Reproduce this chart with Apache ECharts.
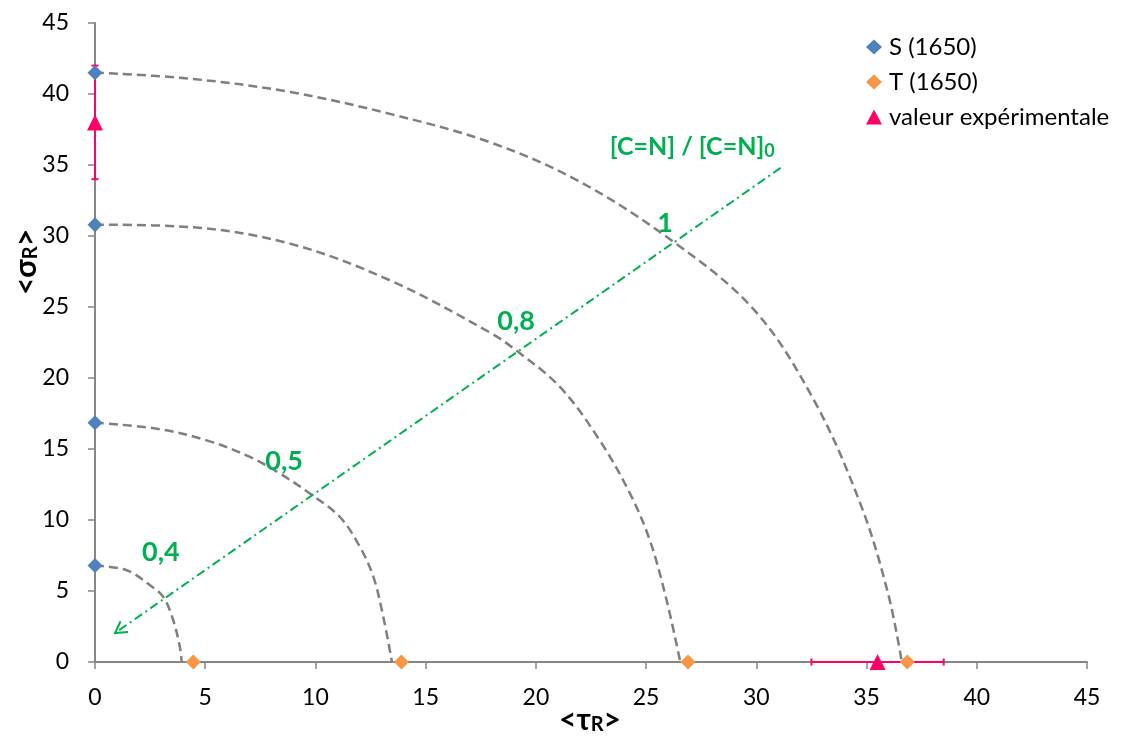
<!DOCTYPE html>
<html><head><meta charset="utf-8">
<script src="https://cdn.jsdelivr.net/npm/echarts@6/dist/echarts.min.js"></script>
<style>html,body{margin:0;padding:0;background:#fff}#c{width:1134px;height:737px}</style>
</head><body><div id="c"></div>
<script>
// ---- data ----
const axisMin = 0, axisMax = 45, axisStep = 5;
const sName = 'S (1650)', tName = 'T (1650)', expName = 'valeur expérimentale';
const sX = [0, 0, 0, 0];
const sY = [41.5, 30.8, 16.85, 6.8];
const tX = [4.46, 13.9, 26.9, 36.85];
const tY = [0, 0, 0, 0];
const expX = [0, 35.5];
const expY = [38, 0];
const expErrX = [0, 3];
const expErrY = [4, 0];
const curve1 = [[0,41.5],[4.31,41.08],[8.85,40.14],[13.38,38.6],[17.92,36.6],[21.9,33.9],[26.1,29.75],[29.9,24.8],[32.63,18.39],[34.76,10.98],[35.98,4.8],[36.6,0]];
const curve2 = [[0,30.8],[4.31,30.63],[8.85,29.46],[13.38,26.88],[17.92,23.2],[19.1,21.95],[21.09,19.37],[22.9,15.6],[24.27,11.86],[25.17,8.57],[25.93,4.35],[26.55,0]];
const curve3 = [[0,16.85],[2.8,16.43],[5.07,15.61],[7.03,14.44],[8.39,13.27],[9.75,11.86],[11.11,10.21],[12.02,8.1],[12.63,5.99],[13.08,3.17],[13.47,0]];
const curve4 = [[0,6.8],[1.44,6.46],[2.5,5.4],[3.1,4.58],[3.55,2.94],[3.85,1.06],[3.93,0]];
const ratioLine = [31.1, 34.8, 0.91, 2.04]; // from (x1,y1) arrow to (x2,y2)
const ratioLabels = ['1', '0,8', '0,5', '0,4'];
const ratioLabelX = [25.86, 19.1, 8.58, 2.99];
const ratioLabelY = [30.9, 24.0, 14.13, 7.73];
const ratioTitle = ['[C=N] / [C=N]', '0'];
const ratioTitlePos = [27.09, 36.3];

// ---- chart ----
const FONT = 'Lato, "Open Sans", "DejaVu Sans", sans-serif';
const GREEN = '#00B050', PINK = '#FF0066', BLUE = '#4F81BD', ORANGE = '#F79646', GRAY = '#868686';
const chart = echarts.init(document.getElementById('c'), null, {renderer: 'canvas'});

function curveSeries(pts) {
  return {type: 'line', data: pts, smooth: 0.35, symbol: 'none', silent: true, z: 1,
    lineStyle: {color: '#7F7F7F', width: 2.5, type: [9, 5], opacity: 1}, clip: false};
}

function renderArrow(params, api) {
  const p0 = api.coord([api.value(0), api.value(1)]);
  const p1 = api.coord([api.value(2), api.value(3)]);
  const ang = Math.atan2(p1[1] - p0[1], p1[0] - p0[0]);
  const L = 13, a = Math.PI / 6;
  const h1 = [p1[0] - L * Math.cos(ang - a), p1[1] - L * Math.sin(ang - a)];
  const h2 = [p1[0] - L * Math.cos(ang + a), p1[1] - L * Math.sin(ang + a)];
  return {type: 'group', children: [
    {type: 'line', shape: {x1: p0[0], y1: p0[1], x2: p1[0], y2: p1[1]},
     style: {stroke: GREEN, lineWidth: 2, lineDash: [9, 4, 2, 4]}},
    {type: 'polyline', shape: {points: [h1, p1, h2]},
     style: {stroke: GREEN, lineWidth: 2, fill: null}}
  ]};
}

function renderErr(params, api) {
  const x = api.value(0), y = api.value(1), ex = api.value(2), ey = api.value(3);
  const st = {stroke: PINK, lineWidth: 2};
  const ch = [];
  const c = 3.5;
  if (ex > 0) {
    const a = api.coord([x - ex, y]), b = api.coord([x + ex, y]);
    ch.push({type: 'line', shape: {x1: a[0], y1: a[1], x2: b[0], y2: b[1]}, style: st});
    ch.push({type: 'line', shape: {x1: a[0], y1: a[1] - c, x2: a[0], y2: a[1] + c}, style: st});
    ch.push({type: 'line', shape: {x1: b[0], y1: b[1] - c, x2: b[0], y2: b[1] + c}, style: st});
  }
  if (ey > 0) {
    const a = api.coord([x, y - ey]), b = api.coord([x, y + ey]);
    ch.push({type: 'line', shape: {x1: a[0], y1: a[1], x2: b[0], y2: b[1]}, style: st});
    ch.push({type: 'line', shape: {x1: a[0] - c, y1: a[1], x2: a[0] + c, y2: a[1]}, style: st});
    ch.push({type: 'line', shape: {x1: b[0] - c, y1: b[1], x2: b[0] + c, y2: b[1]}, style: st});
  }
  return {type: 'group', children: ch};
}

const axisCommon = {
  type: 'value', min: axisMin, max: axisMax, interval: axisStep,
  splitLine: {show: false},
  axisLine: {show: true, onZero: false, lineStyle: {color: GRAY, width: 2}},
  axisTick: {show: true, length: 7, lineStyle: {color: GRAY, width: 1.5}},
  axisLabel: {color: '#000', fontFamily: FONT, fontSize: 23}
};

const greenLabelData = ratioLabels.map((t, i) => ({value: [ratioLabelX[i], ratioLabelY[i]], name: t}));
const titleRich = {
  m: {fontSize: 30, fontWeight: 'bold', fontFamily: FONT, fill: '#000', verticalAlign: 'middle', lineHeight: 30},
  s: {fontSize: 20, fontWeight: 'bold', fontFamily: FONT, fill: '#000', verticalAlign: 'bottom', lineHeight: 18}
};

const option = {
  backgroundColor: '#fff',
  animation: false,
  grid: {left: 95, right: 47, top: 23, bottom: 75, containLabel: false},
  xAxis: Object.assign({}, axisCommon, {
    axisLabel: Object.assign({}, axisCommon.axisLabel, {margin: 24})
  }),
  yAxis: Object.assign({}, axisCommon, {
    axisLabel: Object.assign({}, axisCommon.axisLabel, {margin: 26})
  }),
  legend: {
    orient: 'vertical', left: 861, top: 30, itemGap: 11, itemWidth: 16, itemHeight: 15,
    textStyle: {color: '#000', fontFamily: FONT, fontSize: 24, padding: [0, 0, 0, 2]},
    data: [{name: sName, icon: 'diamond'}, {name: tName, icon: 'diamond'}, {name: expName, icon: 'triangle'}]
  },
  graphic: [
    {type: 'text', left: 559, top: 705, style: {rich: titleRich, text: '{m|<τ}{s|R}{m|>}'}},
    {type: 'text', x: 26, y: 262, rotation: Math.PI / 2, originX: 0, originY: 0,
     style: {rich: titleRich, text: '{m|<σ}{s|R}{m|>}', align: 'center', verticalAlign: 'middle'}}
  ],
  series: [
    curveSeries(curve1), curveSeries(curve2), curveSeries(curve3), curveSeries(curve4),
    {type: 'custom', renderItem: renderArrow, data: [ratioLine], silent: true, z: 2, clip: false,
     encode: {x: [0, 2], y: [1, 3]}},
    {type: 'scatter', data: greenLabelData, symbolSize: 0, silent: true, z: 6, clip: false,
     itemStyle: {opacity: 1},
     label: {show: true, position: [0, 0], align: 'center', verticalAlign: 'middle',
       formatter: p => p.name, color: GREEN, fontFamily: FONT, fontWeight: 'bold', fontSize: 27}},
    {type: 'scatter', data: [{value: ratioTitlePos, name: 't'}], symbolSize: 0, silent: true, z: 6, clip: false,
     itemStyle: {opacity: 1},
     label: {show: true, position: [0, 0], align: 'center', verticalAlign: 'middle',
       formatter: '{m|' + ratioTitle[0] + '}{s|' + ratioTitle[1] + '}',
       rich: {m: {color: GREEN, fontFamily: FONT, fontWeight: 'bold', fontSize: 25, verticalAlign: 'middle', lineHeight: 28},
              s: {color: GREEN, fontFamily: FONT, fontWeight: 'bold', fontSize: 18, verticalAlign: 'bottom', lineHeight: 16}}}},
    {type: 'custom', renderItem: renderErr, silent: true, z: 3, clip: false,
     data: expX.map((x, i) => [x, expY[i], expErrX[i], expErrY[i]]), encode: {x: 0, y: 1}},
    {name: sName, type: 'scatter', symbol: 'diamond', symbolSize: 15, z: 4, clip: false,
     itemStyle: {color: BLUE, opacity: 1}, data: sX.map((x, i) => [x, sY[i]])},
    {name: tName, type: 'scatter', symbol: 'diamond', symbolSize: 15, z: 4, clip: false,
     itemStyle: {color: ORANGE, opacity: 1}, data: tX.map((x, i) => [x, tY[i]])},
    {name: expName, type: 'scatter', symbol: 'triangle', symbolSize: 16, z: 5, clip: false,
     itemStyle: {color: PINK, opacity: 1}, data: expX.map((x, i) => [x, expY[i]])}
  ]
};
chart.setOption(option);
</script>
</body></html>
